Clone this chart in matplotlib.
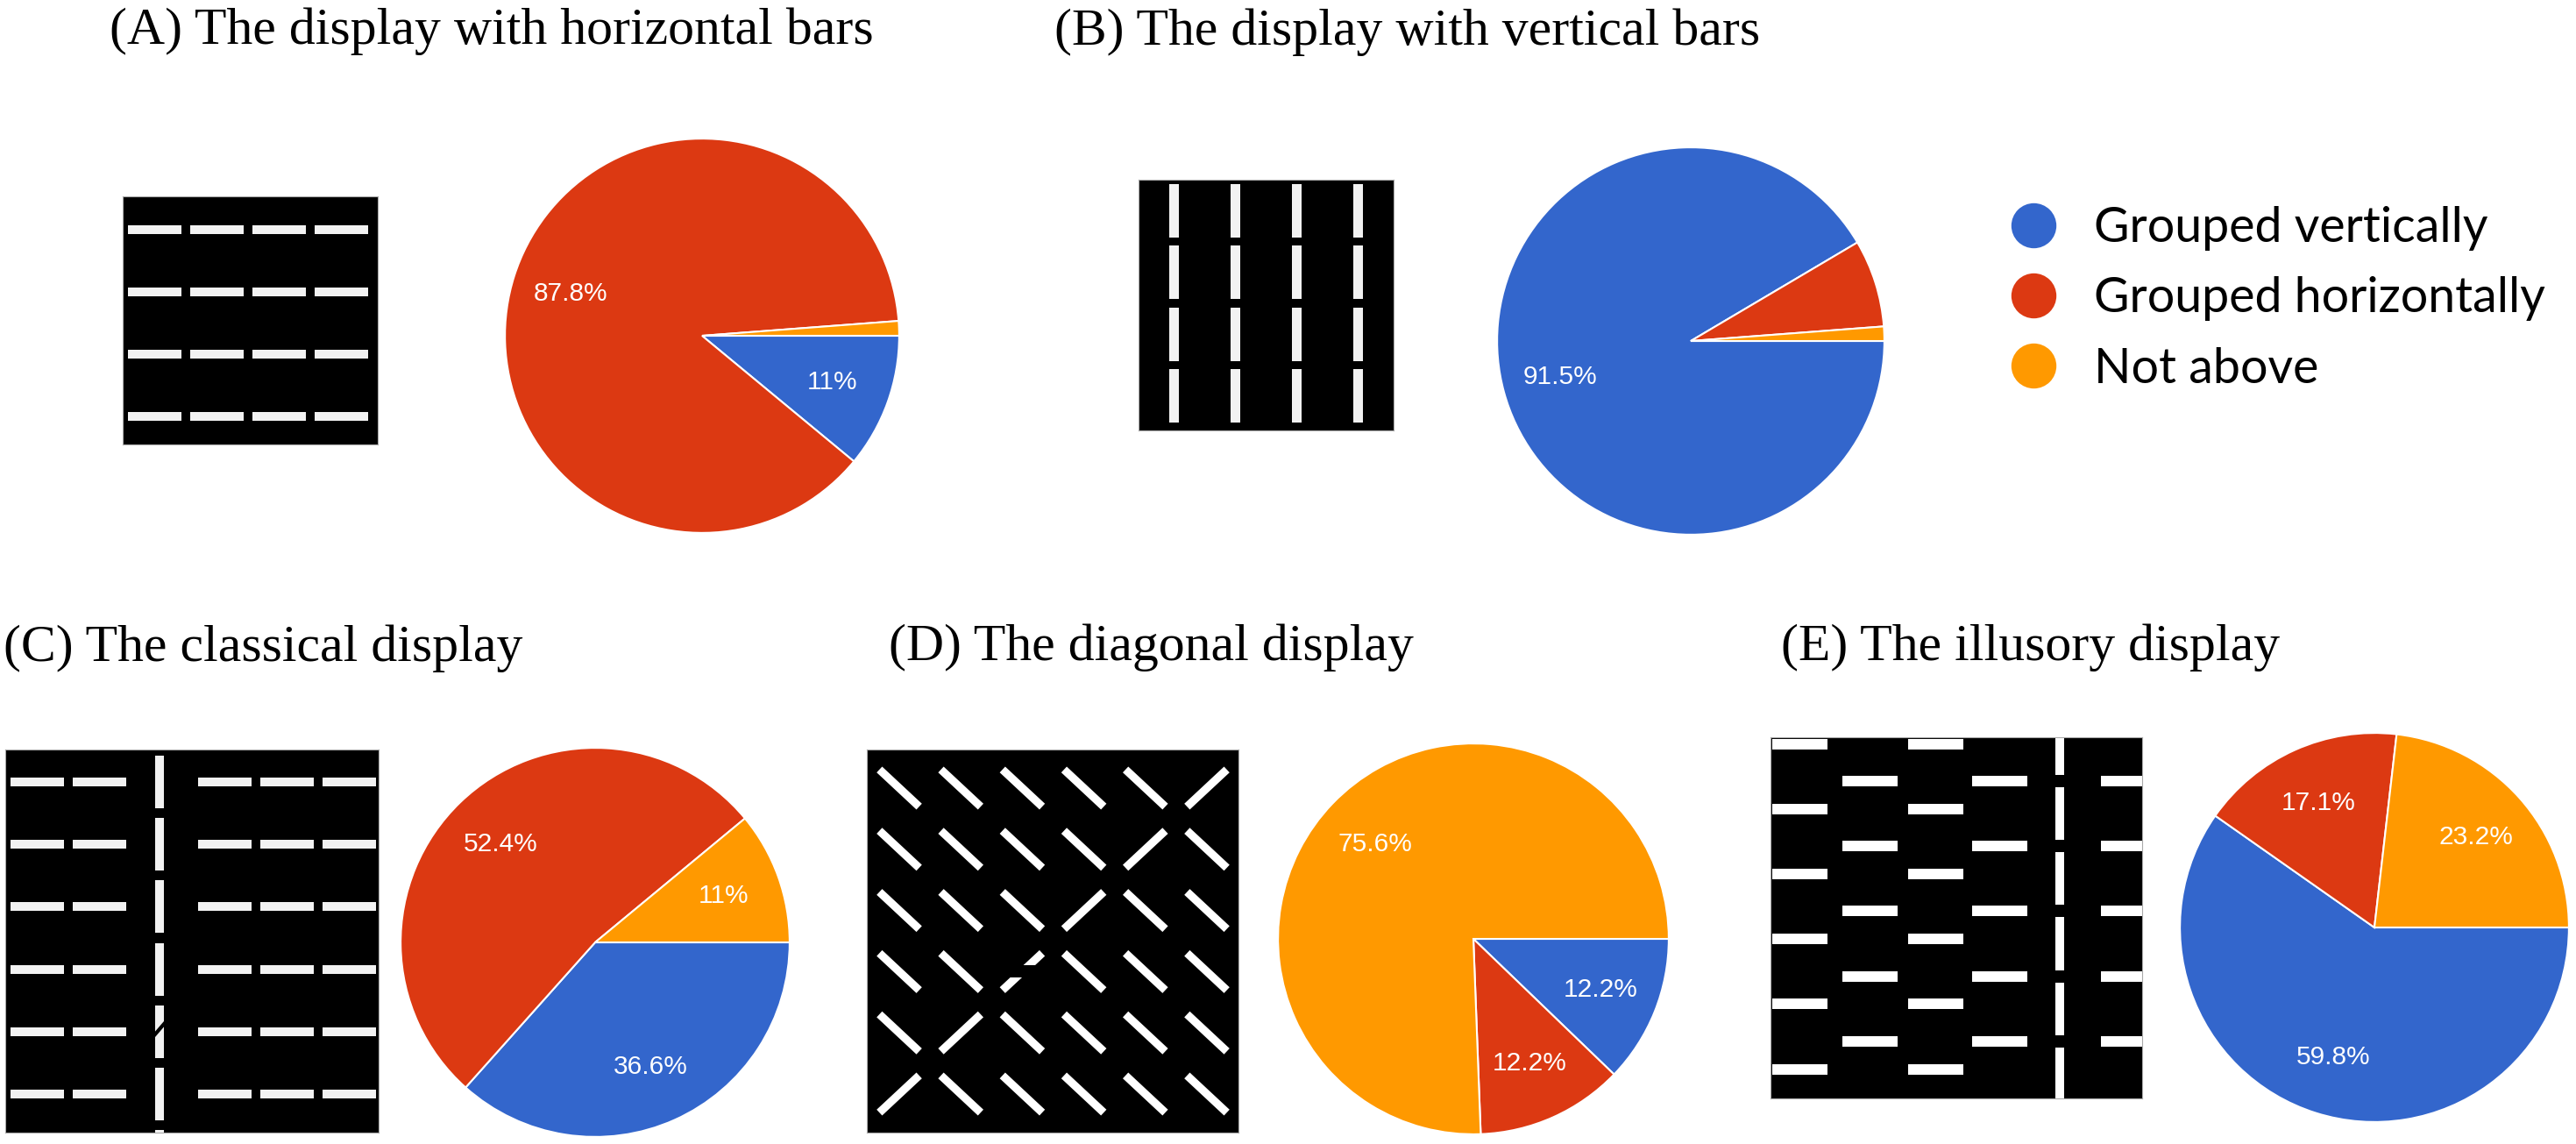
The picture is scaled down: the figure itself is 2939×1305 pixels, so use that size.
import numpy as np
import matplotlib
matplotlib.use('Agg')
import matplotlib.pyplot as plt
from matplotlib.patches import Rectangle
from matplotlib.lines import Line2D

# survey answers (percent), slice order: vertically, horizontally, not above
categories = ['Grouped vertically', 'Grouped horizontally', 'Not above']
colors = ['#3366CC', '#DC3912', '#FF9900']

horizontal_bars = [11, 87.8, 1.2]
vertical_bars = [91.5, 7.3, 1.2]
classical = [36.6, 52.4, 11]
diagonal = [12.2, 12.2, 75.6]
illusory = [59.8, 17.1, 23.2]

panel_titles = ['(A) The display with horizontal bars',
                '(B) The display with vertical bars',
                '(C) The classical display',
                '(D) The diagonal display',
                '(E) The illusory display']

W, H = 2939, 1305
fig = plt.figure(figsize=(W / 100, H / 100), dpi=100)
fig.patch.set_facecolor('white')


def px_axes(x0, y0, w, h):
    return fig.add_axes([x0 / W, 1 - (y0 + h) / H, w / W, h / H])


def draw_pie(values, cx, cy, r):
    ax = px_axes(cx - r, cy - r, 2 * r, 2 * r)
    labels = ['' if v < 8 else f'{v:g}%' for v in values]
    wedges, texts = ax.pie(values, colors=colors, startangle=0, counterclock=False,
                           labels=labels, labeldistance=0.70,
                           wedgeprops=dict(edgecolor='white', linewidth=1.5),
                           textprops=dict(color='white', fontsize=21.5, family='Liberation Sans'))
    for t in texts:
        t.set_ha('center')
        t.set_va('center')
    ax.set_xlim(-1.005, 1.005)
    ax.set_ylim(-1.005, 1.005)
    ax.set_aspect('equal')
    return ax


def stim_ax(x0, y0, w, h):
    ax = px_axes(x0, y0, w, h)
    ax.set_xlim(0, w)
    ax.set_ylim(h, 0)
    ax.set_facecolor('black')
    ax.set_xticks([])
    ax.set_yticks([])
    for s in ax.spines.values():
        s.set_color('#aaaaaa')
        s.set_linewidth(0.8)
    return ax


def bar(ax, x, y, w, h, color='#f2f2f2'):
    ax.add_patch(Rectangle((x, y), w, h, facecolor=color, edgecolor='none', zorder=2))


# (A) horizontal bars
ax = stim_ax(140, 224, 291, 283)
for r in range(4):
    for c in range(4):
        bar(ax, 6 + 71 * c, 33 + 71 * r, 61, 10)

# (B) vertical bars
ax = stim_ax(1299, 205, 291, 286)
for r in range(4):
    for c in range(4):
        bar(ax, 35 + 70 * c, 5 + 70.3 * r, 11, 61)

# (C) classical
ax = stim_ax(6, 855, 426, 437)
for r in range(6):
    for x in [6, 77, 220, 291, 362]:
        bar(ax, x, 32 + 71.2 * r, 61, 10)
for k in range(7):
    bar(ax, 171, 7 + 71.2 * k, 10, 60)
ax.plot([170, 182], [326, 312], color='black', lw=3, zorder=3)

# (D) diagonal
ax = stim_ax(989, 855, 424, 437)
orient = [[0, 0, 0, 0, 0, 1],
          [0, 0, 0, 0, 1, 0],
          [0, 0, 0, 1, 0, 0],
          [0, 0, 1, 0, 0, 0],
          [0, 1, 0, 0, 0, 0],
          [1, 0, 0, 0, 0, 0]]
dx, dy = 31 * np.cos(np.radians(43)), 31 * np.sin(np.radians(43))
for r in range(6):
    for c in range(6):
        cx, cy = 37 + 70.2 * c, 44 + 69.8 * r
        if orient[r][c]:
            ax.plot([cx - dx, cx + dx], [cy + dy, cy - dy], color='white', lw=6.6,
                    solid_capstyle='butt', zorder=2)
        else:
            ax.plot([cx - dx, cx + dx], [cy - dy, cy + dy], color='white', lw=6.6,
                    solid_capstyle='butt', zorder=2)
# broken element
ax.add_patch(Rectangle((37 + 70.2 * 2 - 30, 44 + 69.8 * 3 - 7), 60, 14,
                       facecolor='black', edgecolor='none', zorder=3))

# (E) illusory
ax = stim_ax(2020, 841, 424, 412)
for k in range(6):
    for x in [2, 157]:
        bar(ax, x, 2 + 74.1 * k, 63, 12, 'white')
for k in range(5):
    for x in [82, 230, 377]:
        bar(ax, x, 44 + 74.2 * k, 63, 12, 'white')
bar(ax, 325, 0, 10, 412, 'white')
for k in range(5):
    ax.add_patch(Rectangle((323, 43 + 74.2 * k), 14, 14, facecolor='black',
                           edgecolor='none', zorder=3))

# pies
draw_pie(horizontal_bars, 801, 383, 226)
draw_pie(vertical_bars, 1929, 389, 222)
draw_pie(classical, 679, 1075, 223)
draw_pie(diagonal, 1681, 1071, 224)
draw_pie(illusory, 2709, 1058, 223)

# titles
title_pos = [(125, 50), (1203, 51), (4, 754), (1014, 753), (2032, 753)]
for t, (x, y) in zip(panel_titles, title_pos):
    fig.text(x / W, 1 - y / H, t, ha='left', va='baseline',
             fontsize=43, family='Liberation Serif', color='black')

# legend
handles = [Line2D([], [], marker='o', linestyle='none', markersize=37,
                  markerfacecolor=c, markeredgecolor='none') for c in colors]
fig.legend(handles, categories, loc='upper left',
           bbox_to_anchor=(2292 / W, 1 - 235 / H), frameon=False,
           prop={'family': 'Lato', 'size': 40}, handlelength=1.0,
           handletextpad=0.75, labelspacing=0.53, borderpad=0, borderaxespad=0)

fig.savefig('out.png', dpi=100, facecolor='white')
